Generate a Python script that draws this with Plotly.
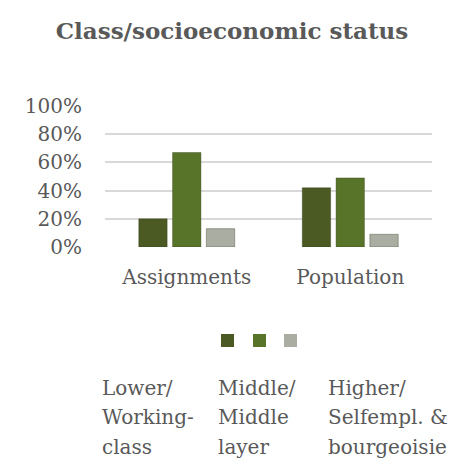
import plotly.graph_objects as go

categories = ["Assignments", "Population"]
series_names = ["Lower/<br>Working-<br>class", "Middle/<br>Middle<br>layer", "Higher/<br>Selfempl. &<br>bourgeoisie"]
lower = [0.20, 0.42]
middle = [0.67, 0.49]
higher = [0.13, 0.09]
colors = ["#4a5a22", "#587428", "#a9ada2"]
tick_vals = [0, 0.2, 0.4, 0.6, 0.8, 1.0]
tick_text = ["0%", "20%", "40%", "60%", "80%", "100%"]

OFF = 8  # default body margin of the page
W = H = 474 - OFF
FONT = "DejaVu Serif"
GRAY = "#595959"


def px(p):
    return (p - OFF) / W


def py(p):
    return 1 - (p - OFF) / H


fig = go.Figure()
for name, vals, col in zip(series_names, [lower, middle, higher], colors):
    fig.add_trace(go.Bar(x=categories, y=vals, name=name.replace("<br>", " "),
                         marker=dict(color=col, line=dict(color="rgba(40,50,20,0.35)", width=1)),
                         showlegend=False))

fig.update_layout(
    width=W, height=H,
    margin=dict(l=0, r=0, t=0, b=0, autoexpand=False),
    paper_bgcolor="white", plot_bgcolor="white",
    barmode="group", bargap=0.38, bargroupgap=0.16,
    font=dict(family=FONT, color=GRAY, size=20),
    title=dict(text="<b>Class/socioeconomic status</b>", x=px(232), xanchor="center",
               y=py(31), yanchor="middle",
               font=dict(family=FONT, size=23, color=GRAY)),
    xaxis=dict(domain=[px(105), px(432)], showgrid=False, zeroline=False, showline=False,
               automargin=False, ticks="", ticklabelstandoff=16,
               tickfont=dict(family=FONT, size=20, color=GRAY)),
    yaxis=dict(domain=[py(247), py(106)], range=[0, 1.0], tickvals=tick_vals,
               ticktext=tick_text, showgrid=True, gridcolor="#d9d9d9", gridwidth=1.5,
               automargin=False, zeroline=False, showline=False, ticks="", ticklabelstandoff=22,
               tickfont=dict(family=FONT, size=20, color=GRAY)),
)

# legend: colored squares row and text row (Excel-style layout)
sq_x = [221, 253, 284]
for xs, col in zip(sq_x, colors):
    fig.add_shape(type="rect", xref="paper", yref="paper",
                  x0=px(xs), x1=px(xs + 13), y0=py(347), y1=py(334),
                  fillcolor=col, line=dict(width=0))

txt_x = [100, 216, 326]
line_y = [388, 417, 447]
for xs, name in zip(txt_x, series_names):
    for yl, part in zip(line_y, name.split("<br>")):
        fig.add_annotation(xref="paper", yref="paper", x=px(xs), y=py(yl),
                           xanchor="left", yanchor="middle", align="left", showarrow=False,
                           text=part, font=dict(family=FONT, size=20, color=GRAY))

fig.write_html("out.html")
